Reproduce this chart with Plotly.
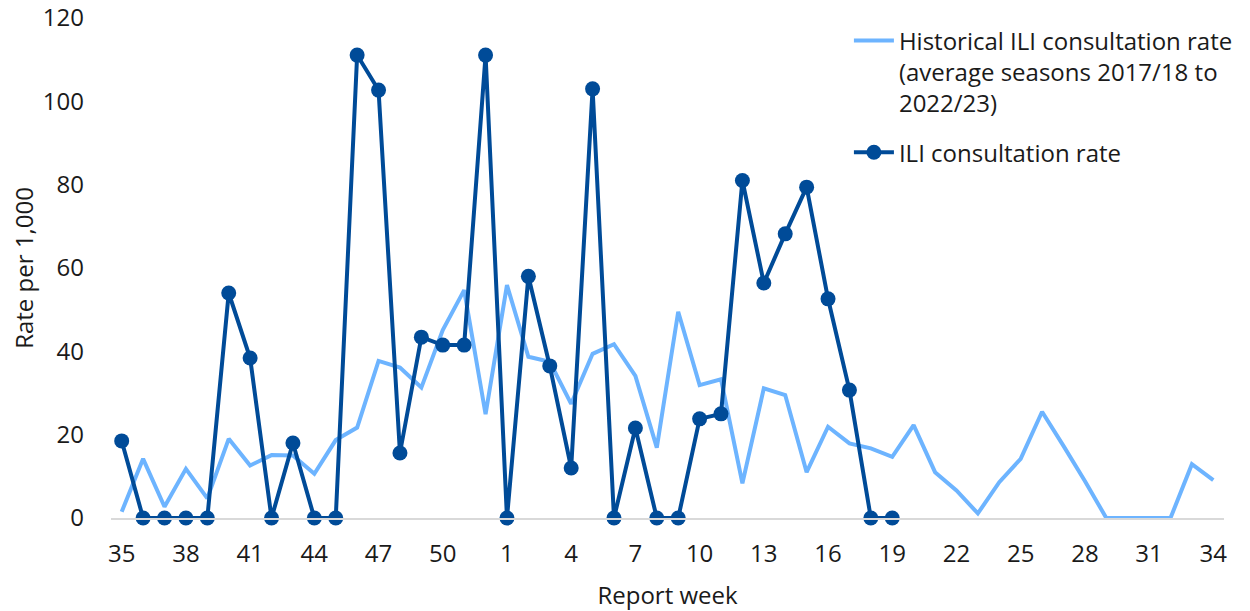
import plotly.graph_objects as go

weeks = [str(w) for w in list(range(35, 53)) + list(range(1, 35))]

historical = [1.5, 14.2, 2.7, 11.8, 4.7, 19.0, 12.6, 15.1, 15.0, 10.6, 18.7, 21.7,
              37.7, 36.1, 31.3, 45.1, 54.7, 24.9,
              55.9, 38.7, 37.5, 27.4, 39.4, 41.7, 34.1, 16.9, 49.5, 31.9, 33.3, 8.3,
              31.1, 29.5, 11.0, 21.9, 17.9, 16.7, 14.7, 22.3, 11.0, 6.6, 1.1, 8.6,
              14.2, 25.5, 17.3, 8.9, 0.0, 0.0, 0.0, 0.0, 12.9, 9.1]

ili = [18.5, 0, 0, 0, 0, 54.0, 38.4, 0, 18.0, 0, 0, 111.1, 102.7, 15.6, 43.4,
       41.5, 41.5, 111.1,
       0, 58.0, 36.5, 12.0, 103.0, 0, 21.6, 0, 0, 23.8, 25.0, 81.0, 56.4, 68.2,
       79.4, 52.6, 30.7, 0, 0]

tick_weeks = weeks[::3]

LIGHT = "#6DB4FF"
DARK = "#004B98"
FONT = "Open Sans"
FS = 24
TXT = "#1a1a1a"

fig = go.Figure()
fig.add_trace(go.Scatter(
    x=weeks, y=historical, mode="lines",
    name="Historical ILI consultation rate<br>(average seasons 2017/18 to<br>2022/23)",
    legendgroup="hist",
    line=dict(color=LIGHT, width=4),
    cliponaxis=False,
))
fig.add_trace(go.Scatter(
    x=weeks[:len(ili)], y=ili, mode="lines+markers",
    name="ILI consultation rate",
    legendgroup="ili",
    line=dict(color=DARK, width=4),
    marker=dict(color=DARK, size=15),
    cliponaxis=False,
))

fig.update_layout(
    width=1250, height=611, autosize=False,
    margin=dict(l=111, r=18, t=18, b=93),
    paper_bgcolor="white", plot_bgcolor="white",
    font=dict(family=FONT, size=FS, color=TXT),
    showlegend=True,
    legend=dict(
        x=0.663, y=0.999, xanchor="left", yanchor="top",
        bgcolor="rgba(0,0,0,0)",
        font=dict(family=FONT, size=FS, color=TXT),
        valign="top",
        itemwidth=40,
        tracegroupgap=15,
    ),
    xaxis=dict(
        type="category", automargin=False,
        categoryorder="array", categoryarray=weeks,
        range=[-0.5, len(weeks) - 0.5],
        tickmode="array", tickvals=tick_weeks, ticktext=tick_weeks,
        showgrid=False, zeroline=False,
        showline=True, linecolor="#D9D9D9", linewidth=1.7,
        ticks="", ticklabelstandoff=13,
        tickfont=dict(family=FONT, size=FS, color=TXT),
        title=dict(text="Report week", font=dict(family=FONT, size=FS, color=TXT), standoff=22),
    ),
    yaxis=dict(
        range=[0, 120], automargin=False,
        tickmode="array", tickvals=[0, 20, 40, 60, 80, 100, 120],
        showgrid=False, zeroline=False, showline=False,
        ticks="", ticklabelstandoff=26,
        tickfont=dict(family=FONT, size=FS, color=TXT),
        title=dict(text="Rate per 1,000", font=dict(family=FONT, size=FS, color=TXT), standoff=2),
    ),
)

# remove the default 8px page margin so the figure fills the window exactly
fig.write_html(
    "out.html",
    config={"displayModeBar": False, "responsive": False},
    post_script="document.body.style.margin='0';document.body.style.overflow='hidden';",
)
